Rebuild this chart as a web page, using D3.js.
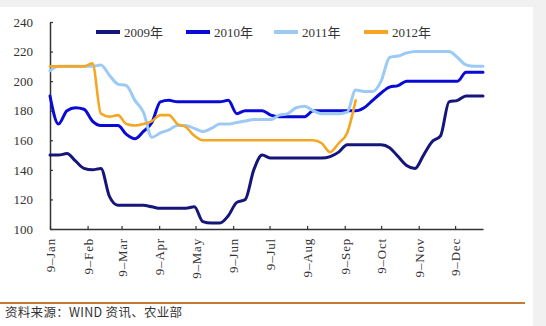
<!DOCTYPE html>
<html><head><meta charset="utf-8">
<script src="https://cdn.jsdelivr.net/npm/d3@7"></script>
<style>html,body{margin:0;padding:0;background:#fff;}svg{display:block;}</style>
</head><body>
<svg id="chart" width="546" height="326"></svg>
<script>
// Weekly observation dates (month-day), plotted on a common year axis
const dates = ["2009-01-09","2009-01-16","2009-01-23","2009-01-30","2009-02-06","2009-02-13","2009-02-20","2009-02-27",
"2009-03-06","2009-03-13","2009-03-20","2009-03-27","2009-04-03","2009-04-10","2009-04-17","2009-04-24",
"2009-05-01","2009-05-08","2009-05-15","2009-05-22","2009-05-29","2009-06-05","2009-06-12","2009-06-19","2009-06-26",
"2009-07-03","2009-07-10","2009-07-17","2009-07-24","2009-07-31","2009-08-07","2009-08-14","2009-08-21","2009-08-28",
"2009-09-04","2009-09-11","2009-09-18","2009-09-25","2009-10-02","2009-10-09","2009-10-16","2009-10-23","2009-10-30",
"2009-11-06","2009-11-13","2009-11-20","2009-11-27","2009-12-04","2009-12-11","2009-12-18","2009-12-25","2010-01-01"];

const seriesNames = ["2009年","2010年","2011年","2012年"];
const seriesColors = ["#16167a","#0a0ad6","#9ccaf4","#f5a623"];

const y2009 = [150,150,151,146,141,140,141,122,116,116,116,116,115,114,114,114,114,115,105,104,104,109,118,120,140,150,
148,148,148,148,148,148,148,149,152,157,157,157,157,157,155,149,143,141,150,159,163,186,187,190,190,190];
const y2010 = [190,171,180,182,181,173,170,170,170,164,161,166,172,186,187,186,186,186,186,186,186,187,178,180,180,180,
177,176,176,176,176,180,180,180,180,180,180,182,187,192,196,197,200,200,200,200,200,200,200,206,206,206];
const y2011 = [207,210,210,210,210,210,211,204,198,197,187,179,162,165,167,170,170,168,166,168,171,171,172,173,174,174,
174,177,178,182,183,180,178,178,178,179,194,193,193,200,216,217,219,220,220,220,220,220,216,211,210,210];
const y2012 = [210,210,210,210,210,212,178,176,177,171,170,171,173,177,177,171,169,163,160,160,160,160,160,160,160,160,
160,160,160,160,160,160,158,152,158,165,187];

const yTicks = [100,120,140,160,180,200,220,240];
const xTickDates = ["2009-01-09","2009-02-09","2009-03-09","2009-04-09","2009-05-09","2009-06-09","2009-07-09",
"2009-08-09","2009-09-09","2009-10-09","2009-11-09","2009-12-09"];
const xTickLabels = ["9–Jan","9–Feb","9–Mar","9–Apr","9–May","9–Jun","9–Jul","9–Aug","9–Sep","9–Oct","9–Nov","9–Dec"];
const sourceText = "资料来源：WIND 资讯、农业部";

const parse = d3.timeParse("%Y-%m-%d");
const svg = d3.select("#chart");
const serif = "'Liberation Serif','Times New Roman','Noto Sans CJK SC',serif";

// light gray frame strips
svg.append("rect").attr("x",0).attr("y",0).attr("width",546).attr("height",7).attr("fill","#f1f1f1");
svg.append("rect").attr("x",533).attr("y",0).attr("width",13).attr("height",326).attr("fill","#f1f1f1");

const x = d3.scaleTime().domain([parse("2009-01-09"), parse("2010-01-01")]).range([50,483]);
const y = d3.scaleLinear().domain([100,240]).range([229,22]);

// y axis
const yAxis = d3.axisLeft(y).tickValues(yTicks).tickSizeInner(-3).tickSizeOuter(0).tickPadding(17);
const gy = svg.append("g").attr("transform","translate(50,0)").call(yAxis);
gy.select(".domain").attr("stroke","#333").attr("stroke-width",1.5);
gy.selectAll(".tick line").attr("stroke","#333").attr("stroke-width",1.2);
gy.selectAll("text").attr("font-family",serif).attr("font-size",13).attr("fill","#333");

// x axis
const xAxis = d3.axisBottom(x).tickValues(xTickDates.map(parse)).tickSizeInner(-3).tickSizeOuter(0)
  .tickFormat((d,i)=>xTickLabels[i]);
const gx = svg.append("g").attr("transform","translate(0,229)").call(xAxis);
gx.select(".domain").attr("stroke","#333").attr("stroke-width",1.5);
gx.selectAll(".tick line").attr("stroke","#333").attr("stroke-width",1.2);
gx.selectAll("text").attr("font-family",serif).attr("font-size",13).attr("fill","#333")
  .attr("letter-spacing","0.8px")
  .attr("text-anchor","end").attr("transform","rotate(-90)")
  .attr("x",-9).attr("y",0).attr("dy","0.35em");

// lines
const allSeries = [y2009,y2010,y2011,y2012];
const line = d3.line().x((d,i)=>x(parse(dates[i]))).y(d=>y(d)).curve(d3.curveMonotoneX);
allSeries.forEach((vals,si)=>{
  svg.append("path").datum(vals).attr("d",line).attr("fill","none")
    .attr("stroke",seriesColors[si]).attr("stroke-width",si===3?2.6:3)
    .attr("stroke-linejoin","round").attr("stroke-linecap","round");
});

// legend
const legendX = [96,186,274,364];
seriesNames.forEach((n,i)=>{
  const g = svg.append("g").attr("transform",`translate(${legendX[i]},32)`);
  g.append("line").attr("x1",0).attr("x2",24).attr("y1",0).attr("y2",0)
    .attr("stroke",seriesColors[i]).attr("stroke-width",4);
  g.append("text").attr("x",28).attr("y",0).attr("dy","0.35em").attr("font-family",serif)
    .attr("font-size",13).attr("fill","#333").text(n);
});

// source line and text
svg.append("line").attr("x1",0).attr("x2",525).attr("y1",303).attr("y2",303)
  .attr("stroke","#c47a35").attr("stroke-width",2);
svg.append("text").attr("x",5).attr("y",313).attr("dy","0.35em")
  .attr("font-family","'Noto Sans CJK SC','Liberation Serif',serif").attr("font-size",12.5)
  .attr("letter-spacing","0.3px")
  .attr("fill","#333").text(sourceText);
</script>
</body></html>
